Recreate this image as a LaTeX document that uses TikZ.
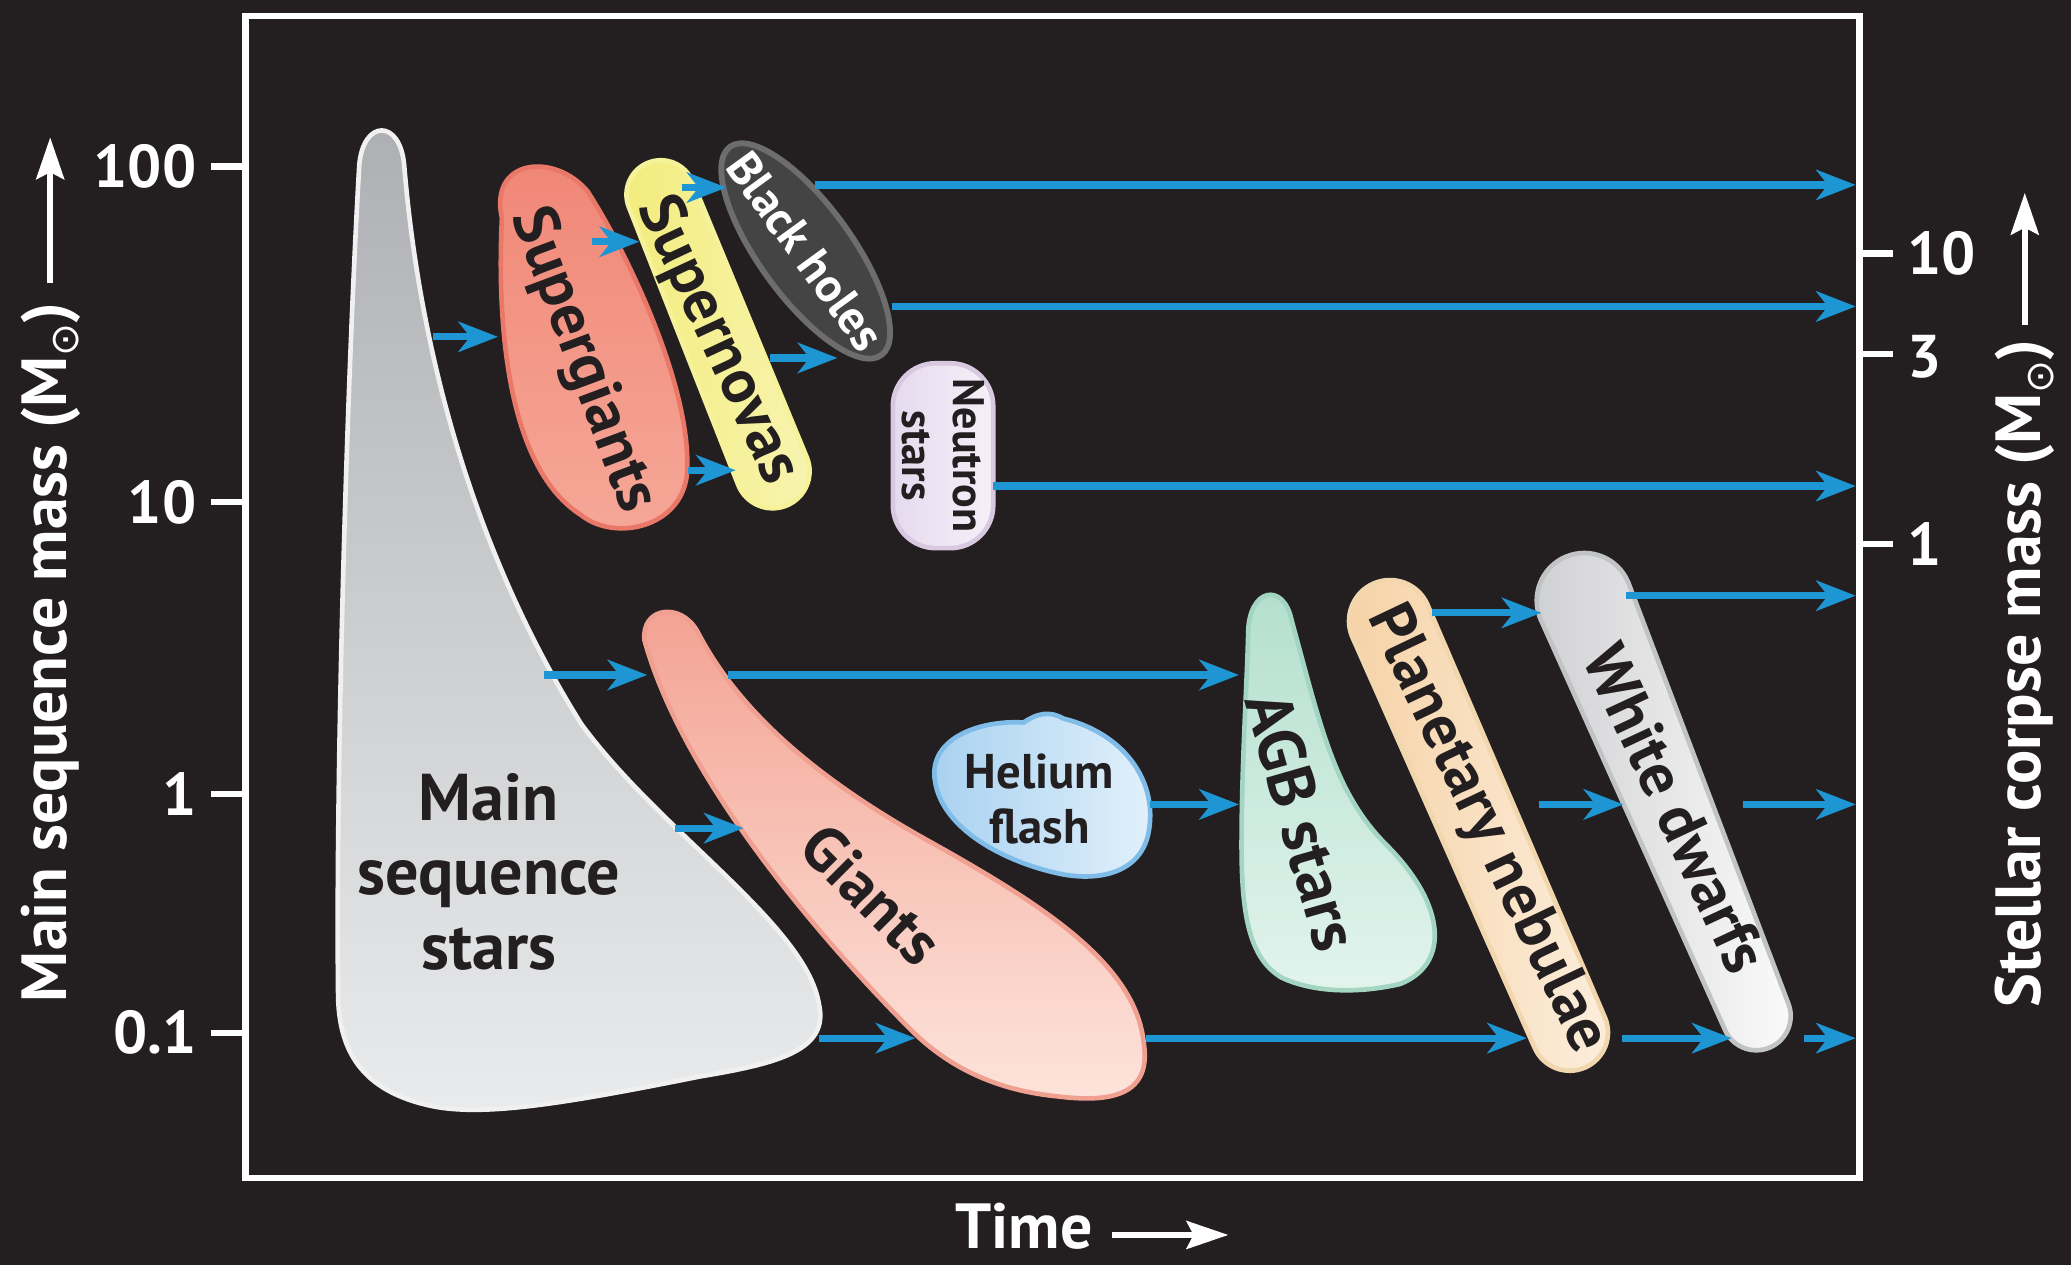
\documentclass[tikz,border=0pt]{standalone}
\usepackage{fontspec}
\setmainfont{PT Sans}
\newfontfamily\symfont{DejaVu Sans}
\usetikzlibrary{arrows.meta,shapes.geometric}
\definecolor{bgc}{HTML}{231F20}
\definecolor{labc}{HTML}{231F20}
\definecolor{flowc}{HTML}{1E96D3}
\definecolor{msA}{HTML}{ADAFB2}
\definecolor{msB}{HTML}{EAEBEC}
\definecolor{msR}{HTML}{F0F0F0}
\definecolor{sgA}{HTML}{F08676}
\definecolor{sgB}{HTML}{F6A898}
\definecolor{sgR}{HTML}{E97868}
\definecolor{snA}{HTML}{F3EC7C}
\definecolor{snB}{HTML}{F8F4B0}
\definecolor{snR}{HTML}{F6F29A}
\definecolor{bhA}{HTML}{454445}
\definecolor{bhR}{HTML}{6E6D6E}
\definecolor{nsA}{HTML}{E6DAEE}
\definecolor{nsB}{HTML}{F6F0F8}
\definecolor{nsR}{HTML}{D8C8E0}
\definecolor{giA}{HTML}{F3A292}
\definecolor{giB}{HTML}{FDE4DC}
\definecolor{giR}{HTML}{F0A090}
\definecolor{heA}{HTML}{A7D1F0}
\definecolor{heB}{HTML}{E3F1FB}
\definecolor{heR}{HTML}{7FBDE8}
\definecolor{agA}{HTML}{B3DFCE}
\definecolor{agB}{HTML}{E2F4ED}
\definecolor{agR}{HTML}{A3D5C2}
\definecolor{pnA}{HTML}{F6D2A6}
\definecolor{pnB}{HTML}{FCEEDC}
\definecolor{pnR}{HTML}{F2D6AE}
\definecolor{wdA}{HTML}{CFD0D2}
\definecolor{wdB}{HTML}{FBFBFB}
\definecolor{wdR}{HTML}{C2C3C5}
\newcommand\sunsub{\raisebox{-0.2em}{\symfont\mdseries\fontsize{17}{17}\selectfont ⊙}}
\begin{document}
\begin{tikzpicture}[x=0.02cm,y=-0.02cm,
  frameline/.style={draw=white,line width=2.8pt},
  tickline/.style={draw=white,line width=2.8pt},
  num/.style={text=white,font=\fontsize{26}{30}\selectfont\bfseries,inner sep=0pt},
  axtitle/.style={text=white,font=\fontsize{27.5}{30}\selectfont\bfseries,inner sep=0pt},
  axarrow/.style={draw=white,line width=2.6pt,-{Stealth[length=18pt,width=12pt,inset=3pt]}},
  lbl/.style={text=labc,font=\fontsize{27}{32}\selectfont\bfseries,inner sep=0pt},
  smalllbl/.style={text=labc,font=\fontsize{19}{22}\selectfont\bfseries,inner sep=0pt,align=center},
  flow/.style={draw=flowc,line width=3.1pt,-{Stealth[length=17pt,width=13pt,inset=5pt]}},
  msfill/.style={top color=msA,bottom color=msB,draw=msR,line width=2pt},
  sgfill/.style={top color=sgA,bottom color=sgB,draw=sgR,line width=2pt},
  snfill/.style={left color=snA,right color=snB,draw=snR,line width=2pt},
  bhfill/.style={fill=bhA,draw=bhR,line width=2.5pt},
  nsfill/.style={left color=nsA,right color=nsB,draw=nsR,line width=2pt},
  gifill/.style={top color=giA,bottom color=giB,draw=giR,line width=2pt},
  hefill/.style={left color=heA,right color=heB,draw=heR,line width=2pt},
  agfill/.style={top color=agA,bottom color=agB,draw=agR,line width=2pt},
  pnfill/.style={left color=pnA,right color=pnB,draw=pnR,line width=2pt},
  wdfill/.style={left color=wdA,right color=wdB,draw=wdR,line width=2pt}
]
\fill[bgc] (0,0) rectangle (1568,958);
\useasboundingbox (0,0) rectangle (1568,958);

% frame and ticks
\draw[frameline] (186,12) rectangle (1408,892);
\draw[tickline] (160,126) -- (186,126);
\draw[tickline] (160,380) -- (186,380);
\draw[tickline] (160,601) -- (186,601);
\draw[tickline] (160,782) -- (186,782);
\draw[tickline] (1408,192) -- (1433,192);
\draw[tickline] (1408,268) -- (1433,268);
\draw[tickline] (1408,412) -- (1433,412);
\node[num,anchor=east] (t100) at (149,126) {100};
\node[num,anchor=east] (t10) at (149,380) {10};
\node[num,anchor=east] (t1) at (149,601) {1};
\node[num,anchor=east] (t01) at (149,782) {0.1};
\node[num,anchor=west] (r10) at (1444,192) {10};
\node[num,anchor=west] (r3) at (1444,270) {3};
\node[num,anchor=west] (r1) at (1444,412) {1};

% axis titles
\node[axtitle,rotate=90,anchor=base west] (ltitle) at (50,759) {Main sequence mass (M\sunsub)};
\coordinate (ltop) at (38,104);
\coordinate (lbot) at (38,214);
\draw[axarrow] (lbot) -- (ltop);
\node[axtitle,rotate=90,anchor=base west] (rtitle) at (1545,763) {Stellar corpse mass (M\sunsub)};
\coordinate (rtop) at (1533,146);
\coordinate (rbot) at (1533,246);
\draw[axarrow] (rbot) -- (rtop);
\node[axtitle,anchor=base west] (ttitle) at (723,945) {Time};
\coordinate (tl) at (842,935);
\coordinate (tr) at (930,935);
\draw[axarrow] (tl) -- (tr);

% main sequence stars
\path[msfill] (306,125)
  .. controls (318,270) and (360,420) .. (440,548)
  .. controls (500,630) and (610,700) .. (620,760)
  .. controls (628,795) and (590,805) .. (530,815)
  .. controls (430,835) and (370,845) .. (330,838)
  .. controls (278,828) and (257,800) .. (256,755)
  .. controls (254,600) and (262,300) .. (272,125)
  .. controls (275,90) and (303,90) .. (306,125) -- cycle;
\node[lbl,align=center,font=\fontsize{28.5}{32}\selectfont\bfseries] (mslab) at (370,660) {Main\\sequence\\stars};

% supergiants
\path[sgfill] (380,165)
  .. controls (370,120) and (420,115) .. (445,145)
  .. controls (480,200) and (525,300) .. (520,360)
  .. controls (515,400) and (465,410) .. (440,390)
  .. controls (385,355) and (376,250) .. (380,165) -- cycle;
\node[lbl,rotate=-69.5] (sglab) at (441,273) {Supergiants};

% supernovas
\begin{scope}[shift={(543,253)},rotate=-68,x=1cm,y=1cm]
  \path[snfill] (-2.28,0.52) -- (2.24,0.56) arc[start angle=90,end angle=-90,radius=0.56]
    -- (-2.28,-0.52) arc[start angle=270,end angle=90,radius=0.52] -- cycle;
\end{scope}
\node[lbl,rotate=-65] (snlab) at (543,258) {Supernovas};

% black holes
\begin{scope}[shift={(610,190)},rotate=-54]
  \path[bhfill] (0,0) ellipse[x radius=1.95cm,y radius=0.7cm];
\end{scope}
\node[smalllbl,text=white,font=\fontsize{20.5}{24}\selectfont\bfseries,rotate=-54] (bhlab) at (610,190) {Black holes};

% neutron stars
\path[nsfill,rounded corners=0.65cm] (676,275) rectangle (752,415);
\node[smalllbl,rotate=-90] (nslab) at (714,345) {Neutron\\stars};

% giants
\path[gifill] (488,485)
  .. controls (485,460) and (515,455) .. (528,478)
  .. controls (560,540) and (620,590) .. (700,635)
  .. controls (790,685) and (860,730) .. (866,790)
  .. controls (872,830) and (840,835) .. (800,830)
  .. controls (750,825) and (715,805) .. (690,780)
  .. controls (640,730) and (520,600) .. (488,485) -- cycle;
\node[lbl,rotate=-45] (gilab) at (660,677) {Giants};

% helium flash
\path[hefill] (708,592)
  .. controls (702,560) and (740,545) .. (775,547)
  .. controls (785,540) and (795,538) .. (805,544)
  .. controls (850,555) and (876,590) .. (870,628)
  .. controls (865,662) and (830,668) .. (800,661)
  .. controls (760,652) and (714,628) .. (708,592) -- cycle;
\node[smalllbl,font=\fontsize{21}{24}\selectfont\bfseries] (helab) at (787,605) {Helium\\flash};

% AGB stars
\path[agfill] (945,480)
  .. controls (945,445) and (972,440) .. (978,470)
  .. controls (1000,550) and (1010,600) .. (1050,640)
  .. controls (1095,685) and (1098,730) .. (1060,745)
  .. controls (1030,752) and (995,752) .. (970,740)
  .. controls (945,725) and (940,690) .. (940,640)
  .. controls (940,580) and (944,520) .. (945,480) -- cycle;
\node[lbl,rotate=-74,font=\fontsize{28}{32}\selectfont\bfseries] (aglab) at (986,622) {AGB stars};

% planetary nebulae
\begin{scope}[shift={(1120,625)},rotate=-66.4,x=1cm,y=1cm]
  \path[pnfill] (-3.38,0.62) -- (3.42,0.58) arc[start angle=90,end angle=-90,radius=0.58]
    -- (-3.38,-0.62) arc[start angle=270,end angle=90,radius=0.62] -- cycle;
\end{scope}
\node[lbl,rotate=-64.6] (pnlab) at (1125,628) {Planetary nebulae};

% white dwarfs
\begin{scope}[shift={(1263,608)},rotate=-67.5,x=1cm,y=1cm]
  \path[wdfill] (-3.32,0.72) -- (3.49,0.52) arc[start angle=90,end angle=-90,radius=0.52]
    -- (-3.32,-0.72) arc[start angle=270,end angle=90,radius=0.72] -- cycle;
\end{scope}
\node[lbl,rotate=-65] (wdlab) at (1269,612) {White dwarfs};

% arrow end points
\coordinate (a1s) at (328,255);  \coordinate (a1e) at (377,255);
\coordinate (a2s) at (448,183);  \coordinate (a2e) at (484,183);
\coordinate (a3s) at (516,142);  \coordinate (a3e) at (550,142);
\coordinate (a4s) at (617,140);  \coordinate (a4e) at (1405,140);
\coordinate (a5s) at (675,232);  \coordinate (a5e) at (1405,232);
\coordinate (a6s) at (583,271);  \coordinate (a6e) at (634,271);
\coordinate (a7s) at (521,356);  \coordinate (a7e) at (557,356);
\coordinate (a8s) at (752,368);  \coordinate (a8e) at (1405,368);
\coordinate (a9s) at (1231,451); \coordinate (a9e) at (1405,451);
\coordinate (b1s) at (1084,464); \coordinate (b1e) at (1167,464);
\coordinate (b2s) at (412,511);  \coordinate (b2e) at (490,511);
\coordinate (b3s) at (551,511);  \coordinate (b3e) at (938,511);
\coordinate (b4s) at (511,627);  \coordinate (b4e) at (563,627);
\coordinate (b5s) at (871,609);  \coordinate (b5e) at (938,609);
\coordinate (b6s) at (1165,609); \coordinate (b6e) at (1229,609);
\coordinate (b7s) at (1320,609); \coordinate (b7e) at (1405,609);
\coordinate (c1s) at (620,786);  \coordinate (c1e) at (693,786);
\coordinate (c2s) at (868,786);  \coordinate (c2e) at (1156,786);
\coordinate (c3s) at (1228,786); \coordinate (c3e) at (1311,786);
\coordinate (c4s) at (1366,786); \coordinate (c4e) at (1405,786);
\foreach \n in {a1,a2,a3,a4,a5,a6,a7,a8,a9,b1,b2,b3,b4,b5,b6,b7,c1,c2,c3,c4}
  \draw[flow] (\n s) -- (\n e);
\end{tikzpicture}
\end{document}
